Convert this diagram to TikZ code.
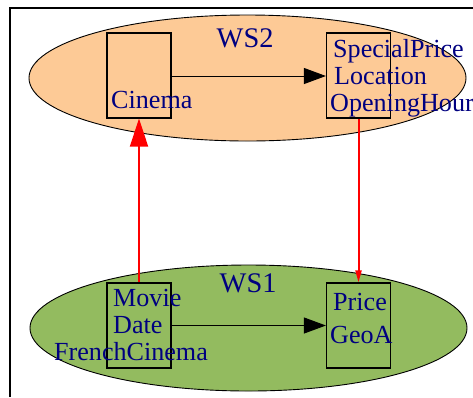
\documentclass[tikz,border=0pt]{standalone}
\usepackage{fontspec}
\setmainfont{Liberation Serif}
\usetikzlibrary{arrows.meta,shapes.geometric}
\definecolor{wstwo}{RGB}{253,202,150}
\definecolor{wsone}{RGB}{147,187,95}
\definecolor{txt}{RGB}{0,0,128}
\tikzset{
  ws/.style={ellipse, draw=black, line width=0.9bp, minimum width=437bp, minimum height=126bp, inner sep=0pt},
  box/.style={draw=black, line width=1.2bp, minimum width=64bp, minimum height=85bp, inner sep=0pt},
  lbl/.style={anchor=base west, inner sep=0pt, text=txt, font=\fontsize{26.2}{27}\selectfont},
  wslbl/.style={anchor=base west, inner sep=0pt, text=txt, font=\fontsize{28.5}{30}\selectfont},
  redarrow/.style={draw=red, line width=2bp},
  blackarrow/.style={draw=black, line width=1bp},
}
\begin{document}
\begin{tikzpicture}[x=1bp,y=-1bp]
\useasboundingbox (0,0) rectangle (473,397);
\draw[line width=1.6bp] (10,397) -- (10,8) -- (473,8);
\node[ws, fill=wstwo] (ws2) at (247.5,78) {};
\node[ws, fill=wsone] (ws1) at (248.5,328) {};
\node[box] (cin) at (139,75.5) {};
\node[box] (sp) at (358.5,75.5) {};
\node[box] (mov) at (139,325.5) {};
\node[box] (pr) at (358.5,325.5) {};
\node[wslbl] (t2) at (216.5,47) {WS2};
\node[wslbl] (t1) at (219.5,292) {WS1};
\node[lbl] (tc) at (111,108) {Cinema};
\node[lbl] (ts1) at (333,57) {SpecialPrice};
\node[lbl] (ts2) at (334,84) {Location};
\node[lbl] (ts3) at (330,111) {OpeningHour};
\node[lbl] (tm1) at (113,306) {Movie};
\node[lbl] (tm2) at (113,333) {Date};
\node[lbl] (tm3) at (54,360) {FrenchCinema};
\node[lbl] (tp1) at (333,310) {Price};
\node[lbl] (tp2) at (330,343) {GeoA};
\draw[blackarrow, -{Triangle[length=22bp,width=16bp]}] (cin.east |- 0,76) -- (sp.west |- 0,76);
\draw[blackarrow, -{Triangle[length=22bp,width=16bp]}] (mov.east |- 0,325.5) -- (pr.west |- 0,325.5);
\draw[redarrow, -{Triangle[length=28bp,width=18bp]}, red] (mov.north) -- (cin.south);
\draw[redarrow, -{Triangle[length=12bp,width=6bp]}, red] (sp.south) -- (pr.north);
\end{tikzpicture}
\end{document}
